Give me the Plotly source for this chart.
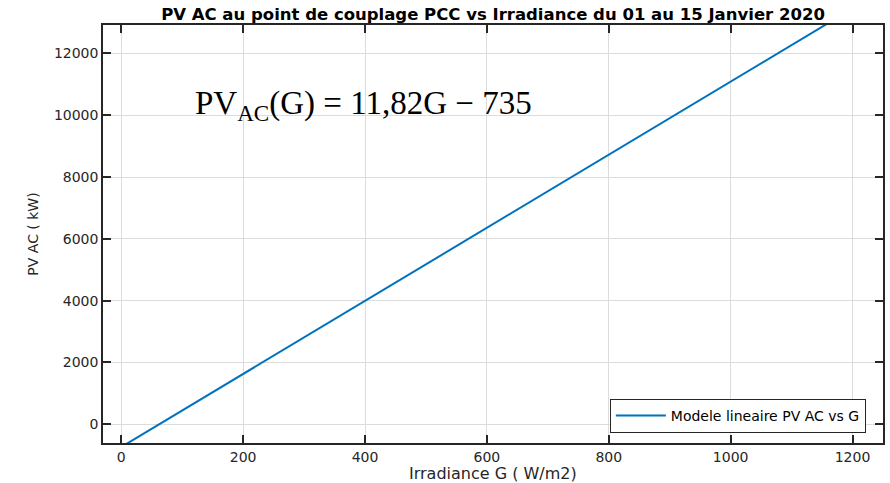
import plotly.graph_objects as go

# Linear model of AC power at the PCC vs irradiance
slope = [11.82]
intercept = [-735]
g_ends = [0, 1200]
pv_ends = [slope[0] * g + intercept[0] for g in g_ends]

x_ticks = [0, 200, 400, 600, 800, 1000, 1200]
y_ticks = [0, 2000, 4000, 6000, 8000, 10000, 12000]
x_range = [-30, 1250]
y_range = [-605, 12917]

axis_color = "#262626"
grid_color = "#dcdcdc"
tick_font = dict(family="DejaVu Sans", size=14, color=axis_color)

fig = go.Figure()
fig.add_trace(go.Scatter(
    x=g_ends, y=pv_ends, mode="lines",
    line=dict(color="#0072BD", width=2),
    name="Modele lineaire PV AC vs G",
))

axis_common = dict(
    showline=True, linecolor=axis_color, linewidth=1.5, mirror="ticks",
    ticks="inside", ticklen=8, tickwidth=1.5, tickcolor=axis_color,
    showgrid=True, gridcolor=grid_color, gridwidth=1,
    zeroline=False, tickfont=tick_font, automargin=False,
)

fig.update_xaxes(range=x_range, tickvals=x_ticks, tickformat="d", **axis_common)
fig.update_yaxes(range=y_range, tickvals=y_ticks, tickformat="d",
                 title=dict(text="PV AC ( kW)", standoff=12,
                            font=dict(family="DejaVu Sans", size=14, color=axis_color)),
                 **axis_common)

# x-axis label, placed just under the tick labels
fig.add_annotation(
    x=0.5, y=-0.073, xref="paper", yref="paper", xanchor="center", yanchor="middle",
    text="Irradiance G ( W/m2)", showarrow=False,
    font=dict(family="DejaVu Sans", size=16, color=axis_color),
)

fig.add_annotation(
    x=0.115, y=0.808, xref="paper", yref="paper", xanchor="left", yanchor="middle",
    text="PV<sub>AC</sub>(G) = 11,82G − 735", showarrow=False,
    font=dict(family="Liberation Serif", size=33, color="black"),
)

fig.update_layout(
    width=890, height=483,
    margin=dict(l=103, r=7, t=25, b=40),
    paper_bgcolor="white", plot_bgcolor="white",
    title=dict(text="<b>PV AC au point de couplage PCC vs Irradiance du 01 au 15 Janvier 2020</b>",
               x=0.5, xref="paper", xanchor="center", y=0.97, yanchor="middle",
               font=dict(family="DejaVu Sans", size=16.5, color="black")),
    showlegend=True,
    legend=dict(x=0.978, y=0.024, xanchor="right", yanchor="bottom",
                bgcolor="white", bordercolor=axis_color, borderwidth=1,
                font=dict(family="DejaVu Sans", size=14, color="black"),
                itemwidth=50, tracegroupgap=0),
)

fig.write_html("out.html")
